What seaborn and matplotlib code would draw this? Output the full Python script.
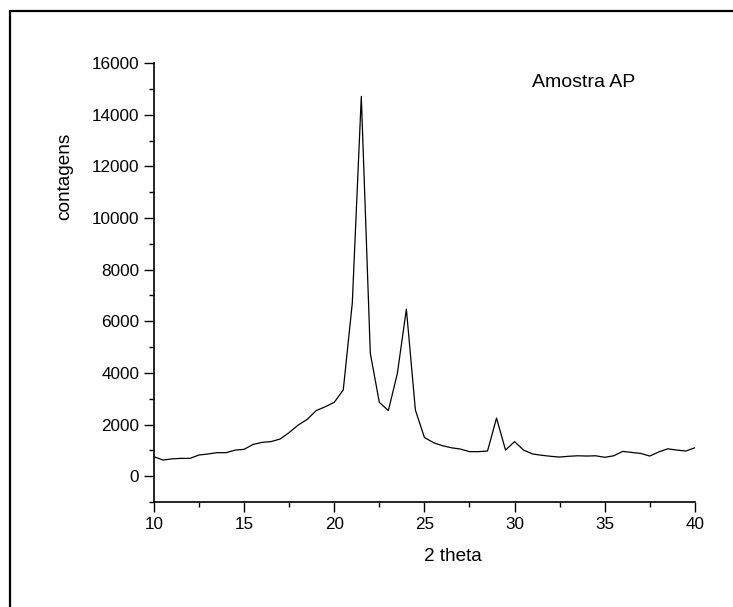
import numpy as np
import pandas as pd
import seaborn as sns
import matplotlib
matplotlib.use("Agg")
from matplotlib import pyplot as plt
from matplotlib.lines import Line2D
from matplotlib.ticker import MultipleLocator

# difratograma - amostra AP
theta2 = [10.0, 10.5, 11.0, 11.5, 12.0, 12.5, 13.0, 13.5, 14.0, 14.5,
          15.0, 15.5, 16.0, 16.5, 17.0, 17.5, 18.0, 18.5, 19.0, 19.5,
          20.0, 20.5, 21.0, 21.5, 22.0, 22.5, 23.0, 23.5, 24.0, 24.5,
          25.0, 25.5, 26.0, 26.5, 27.0, 27.5, 28.0, 28.5, 29.0, 29.5,
          30.0, 30.5, 31.0, 31.5, 32.0, 32.5, 33.0, 33.5, 34.0, 34.5,
          35.0, 35.5, 36.0, 36.5, 37.0, 37.5, 38.0, 38.5, 39.0, 39.5, 40.0]
contagens = [755, 625, 670, 690, 690, 820, 860, 910, 910, 1010,
             1040, 1230, 1310, 1340, 1440, 1690, 1980, 2200, 2540, 2690,
             2860, 3340, 6700, 14710, 4760, 2860, 2540, 3980, 6470, 2560,
             1500, 1300, 1180, 1100, 1050, 950, 950, 975, 2250, 1010,
             1340, 1010, 860, 810, 770, 740, 770, 790, 780, 790,
             730, 790, 960, 920, 880, 780, 940, 1060, 1010, 975, 1100]

df = pd.DataFrame({"2 theta": theta2, "contagens": contagens})

sns.set_style("ticks")
plt.rcParams['font.family'] = ['Liberation Sans', 'DejaVu Sans']
plt.rcParams['text.color'] = 'black'
plt.rcParams['axes.labelcolor'] = 'black'

fig = plt.figure(figsize=(7.33, 6.07), dpi=100)
ax = fig.add_axes([0.210, 0.173, 0.738, 0.723])
sns.lineplot(data=df, x="2 theta", y="contagens", color="black", linewidth=0.9, ax=ax)

ax.set_xlim(10, 40)
ax.set_ylim(-1000, 16000)
ax.xaxis.set_major_locator(MultipleLocator(5))
ax.xaxis.set_minor_locator(MultipleLocator(2.5))
ax.yaxis.set_major_locator(MultipleLocator(2000))
ax.yaxis.set_minor_locator(MultipleLocator(1000))
ax.set_yticks(range(0, 16001, 2000))
ax.tick_params(which="major", length=7, width=1, labelsize=12.3, color="black", labelcolor="black")
ax.tick_params(which="minor", length=3.5, width=1, color="black")
for s in ["top", "right"]:
    ax.spines[s].set_visible(False)
for s in ["left", "bottom"]:
    ax.spines[s].set_linewidth(1.2)
    ax.spines[s].set_color("black")

ax.set_xlabel("2 theta", fontsize=13.7)
ax.set_ylabel("contagens", fontsize=13.7)
ax.xaxis.set_label_coords(0.553, -0.105)
ax.yaxis.set_label_coords(-0.15, 0.743)
ax.text(0.699, 0.955, "Amostra AP", transform=ax.transAxes, fontsize=14, va="center")

# moldura da figura
fig.add_artist(Line2D([0.0136, 1.0], [0.9827, 0.9827], transform=fig.transFigure, color="black", linewidth=1.6))
fig.add_artist(Line2D([0.0136, 0.0136], [0.0, 0.9827], transform=fig.transFigure, color="black", linewidth=1.6))

plt.savefig("out.png", dpi=100)
